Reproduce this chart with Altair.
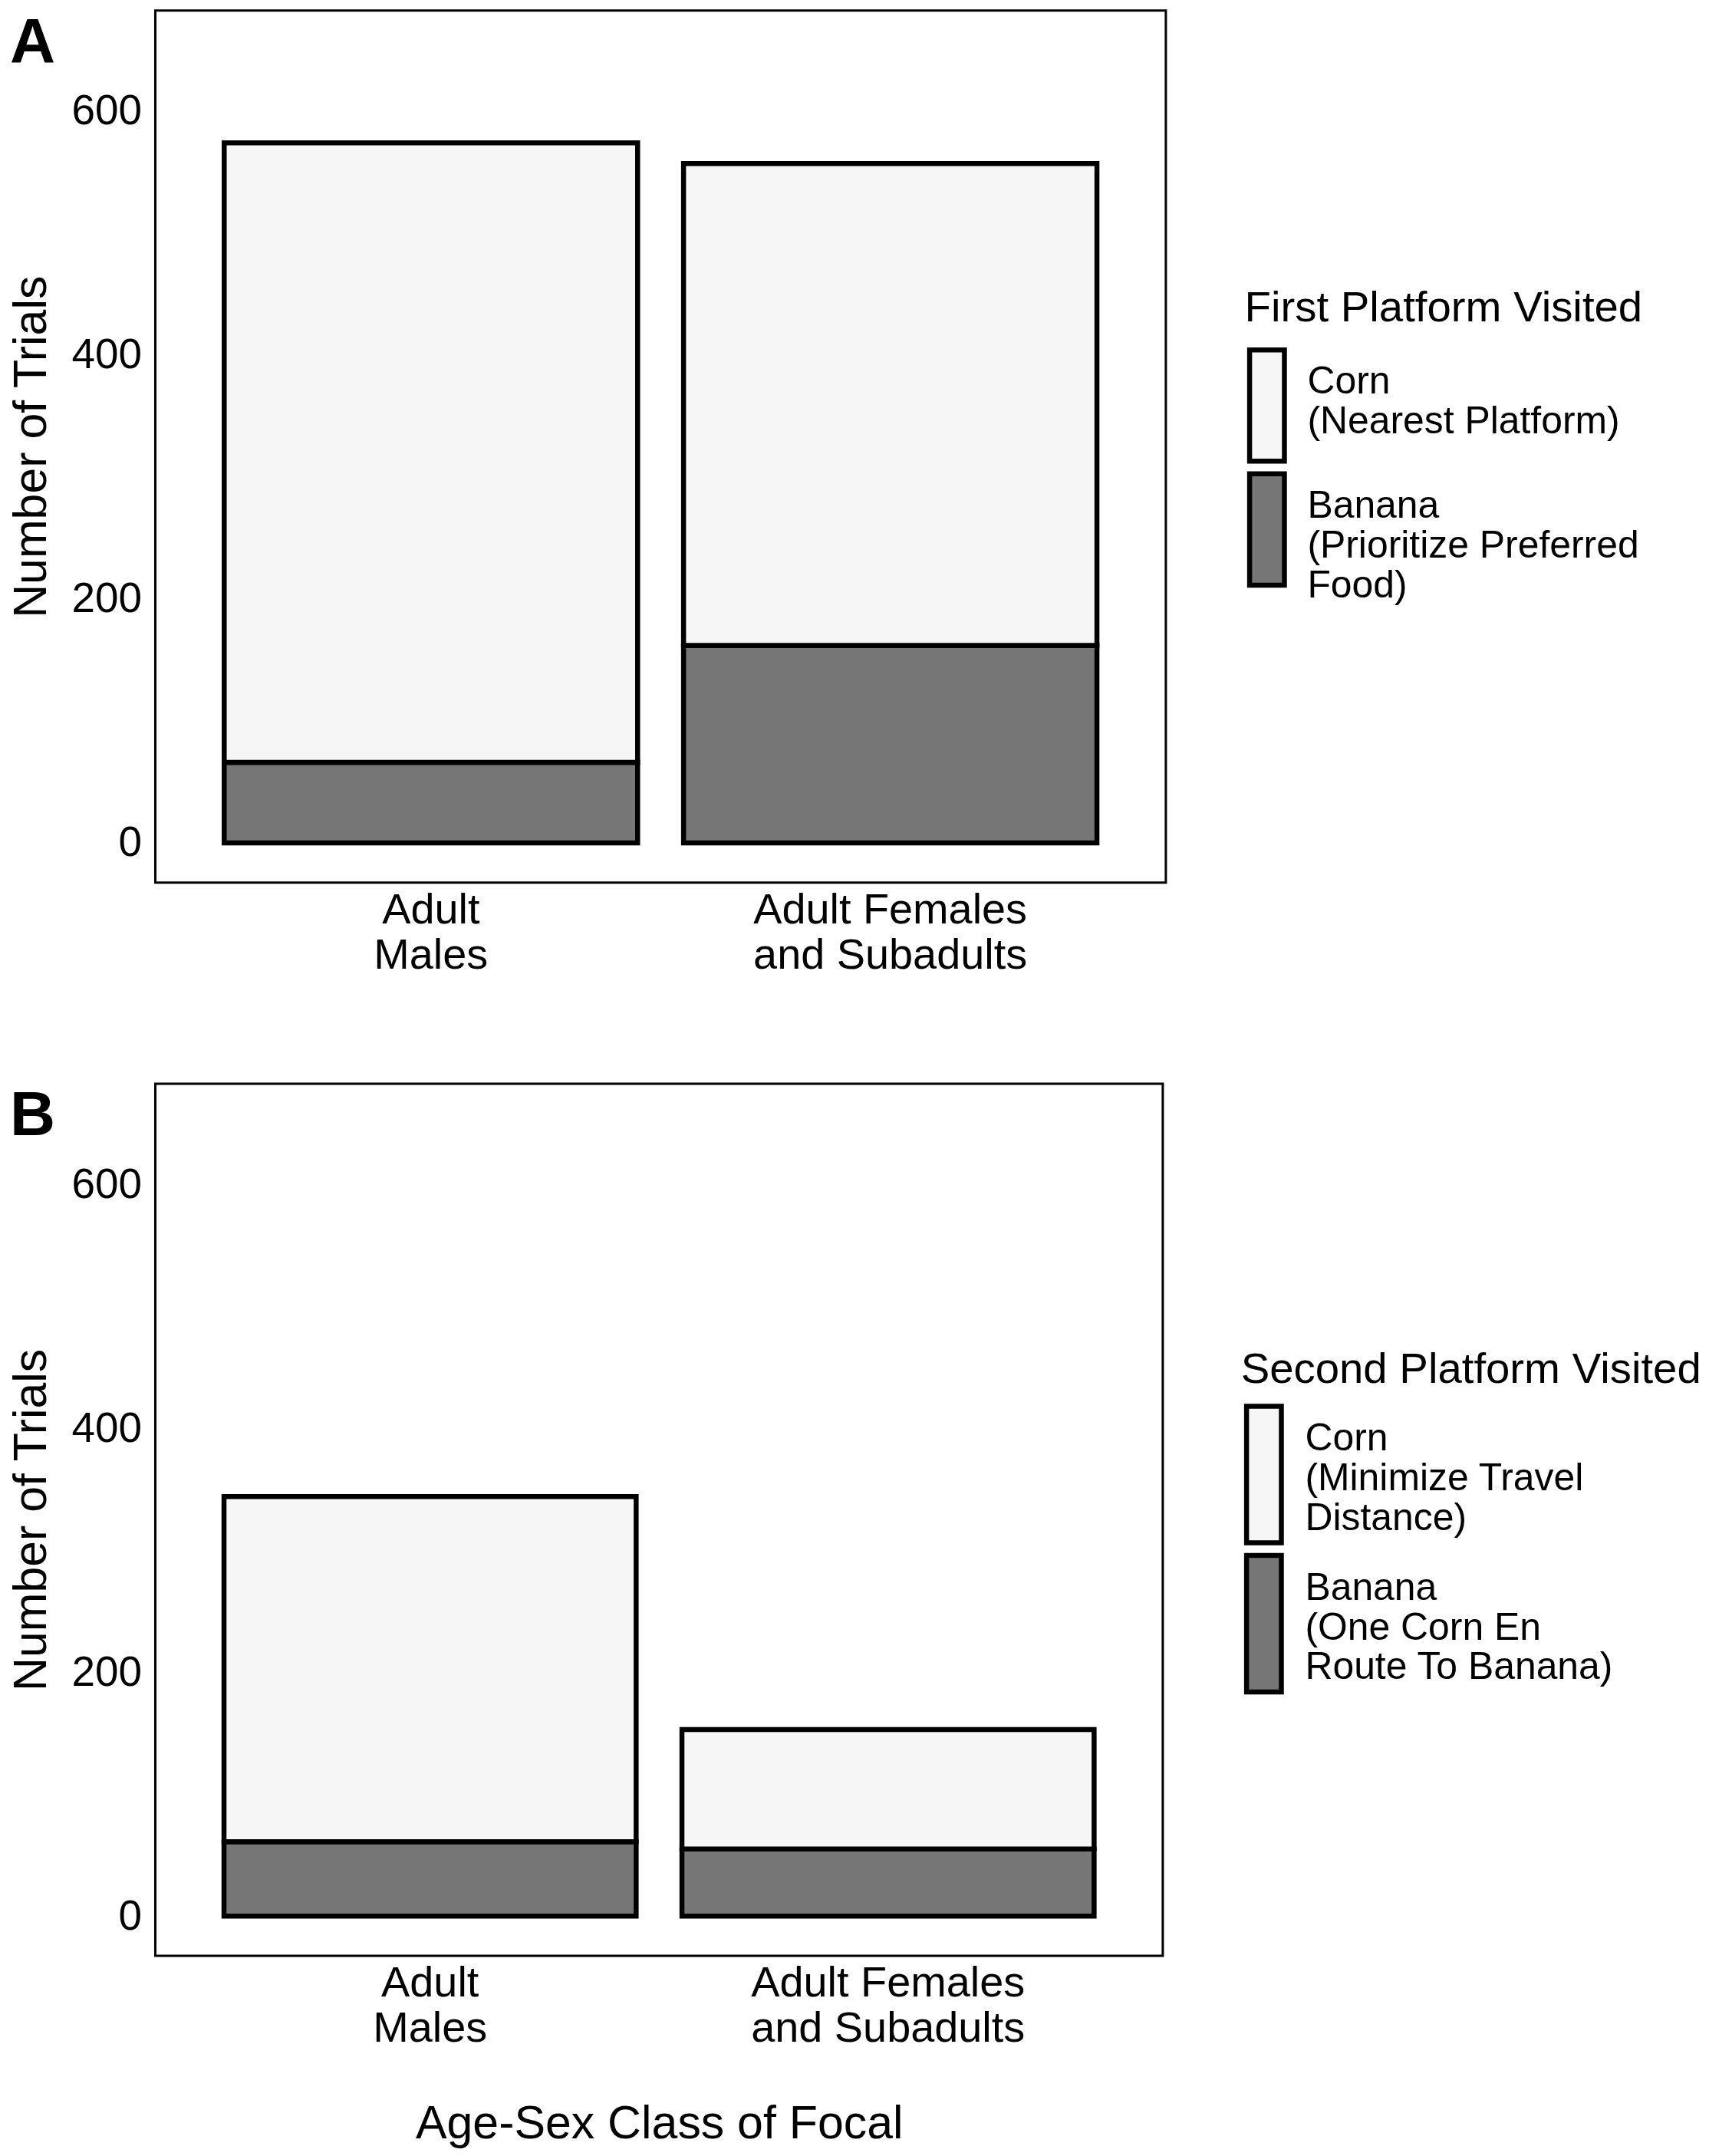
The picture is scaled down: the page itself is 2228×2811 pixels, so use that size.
import altair as alt
import pandas as pd

# ---- data ----
groups = ["Adult|Males", "Adult Females|and Subadults"]

first_labels = ["Corn|(Nearest Platform)", "Banana|(Prioritize Preferred|Food)"]
first_corn = [508, 395]
first_banana = [66, 162]

second_labels = ["Corn|(Minimize Travel|Distance)", "Banana|(One Corn En|Route To Banana)"]
second_corn = [283, 98]
second_banana = [61, 55]

fills = ["#f6f6f6", "#767676"]
y_ticks = [0, 200, 400, 600]

FONT = "Liberation Sans, Arial, Helvetica, sans-serif"


def make_df(labels, corn, banana):
    rows = []
    for g, c, b in zip(groups, corn, banana):
        rows.append({"group": g, "visit": labels[1], "n": b, "stackorder": 0})
        rows.append({"group": g, "visit": labels[0], "n": c, "stackorder": 1})
    return pd.DataFrame(rows)


def panel(df, labels, letter, legend_title, width, sym_path, sym_side,
          legend_x, legend_y, title_pad, row_pad, label_off, xtitle):
    x_kwargs = dict(
        sort=groups,
        scale=alt.Scale(paddingInner=0.1, paddingOuter=0.15),
        axis=alt.Axis(
            labelExpr="split(datum.label, '|')",
            labelAngle=0,
            ticks=False,
            domain=False,
            labelPadding=9,
            labelFontSize=56,
            labelLineHeight=59,
            labelLimit=800,
            titleFontSize=61,
            titlePadding=67,
        ),
    )
    if xtitle:
        x_enc = alt.X("group:N", title=xtitle, **x_kwargs)
    else:
        x_enc = alt.X("group:N", title=None, **x_kwargs)

    bars = (
        alt.Chart(df)
        .mark_bar(stroke="black", strokeWidth=6.5)
        .encode(
            x=x_enc,
            y=alt.Y(
                "sum(n):Q",
                title="Number of Trials",
                scale=alt.Scale(domain=[-32.5, 682.5], nice=False, zero=False),
                axis=alt.Axis(
                    values=y_ticks,
                    ticks=False,
                    domain=False,
                    grid=False,
                    labelPadding=18,
                    labelFontSize=55,
                    titleFontSize=61,
                    titlePadding=21,
                ),
            ),
            fill=alt.Fill(
                "visit:N",
                scale=alt.Scale(domain=labels, range=fills),
                legend=alt.Legend(
                    title=legend_title,
                    orient="none",
                    legendX=legend_x,
                    legendY=legend_y,
                    padding=0,
                    symbolType=sym_path,
                    symbolSize=sym_side * sym_side,
                    symbolStrokeColor="black",
                    symbolStrokeWidth=6.5,
                    labelExpr="split(datum.label, '|')",
                    labelFontSize=50,
                    labelOffset=alt.ExprRef(expr=str(label_off)),
                    labelLimit=800,
                    titleFontSize=56.5,
                    titleFontWeight="normal",
                    titleLimit=900,
                    titlePadding=title_pad,
                    rowPadding=alt.ExprRef(expr=str(row_pad)),
                ),
            ),
            order=alt.Order("stackorder:Q"),
        )
    )

    tag = (
        alt.Chart(pd.DataFrame({"letter": [letter]}))
        .mark_text(align="left", baseline="top", fontSize=82, fontWeight="bold",
                   font=FONT, color="black")
        .encode(text="letter:N", x=alt.value(-190), y=alt.value(2))
    )

    return alt.layer(bars, tag).properties(width=width, height=1140)


chart_a = panel(make_df(first_labels, first_corn, first_banana), first_labels, "A",
                "First Platform Visited", 1321,
                "M-0.929,-1.008H0.155V2.456H-0.929Z", 84,
                1424, 361, 23, -28, -9, None)
chart_b = panel(make_df(second_labels, second_corn, second_banana), second_labels, "B",
                "Second Platform Visited", 1317,
                "M-0.906,-1.008H0.165V3.192H-0.906Z", 85,
                1419, 346, 16, -26, -8, "Age-Sex Class of Focal")

chart = (
    alt.vconcat(chart_a, chart_b, spacing=136)
    .resolve_scale(fill="independent")
    .resolve_legend(fill="independent")
    .properties(padding={"left": 0, "top": 0, "right": 0, "bottom": 0})
    .configure(font=FONT)
    .configure_view(stroke="black", strokeWidth=3)
    .configure_axis(labelColor="black", titleColor="black", titleFontWeight="normal",
                    labelFont=FONT, titleFont=FONT)
    .configure_legend(labelColor="black", titleColor="black", labelFont=FONT, titleFont=FONT)
)

chart.save("out.html", embed_options={"renderer": "svg", "actions": False})
